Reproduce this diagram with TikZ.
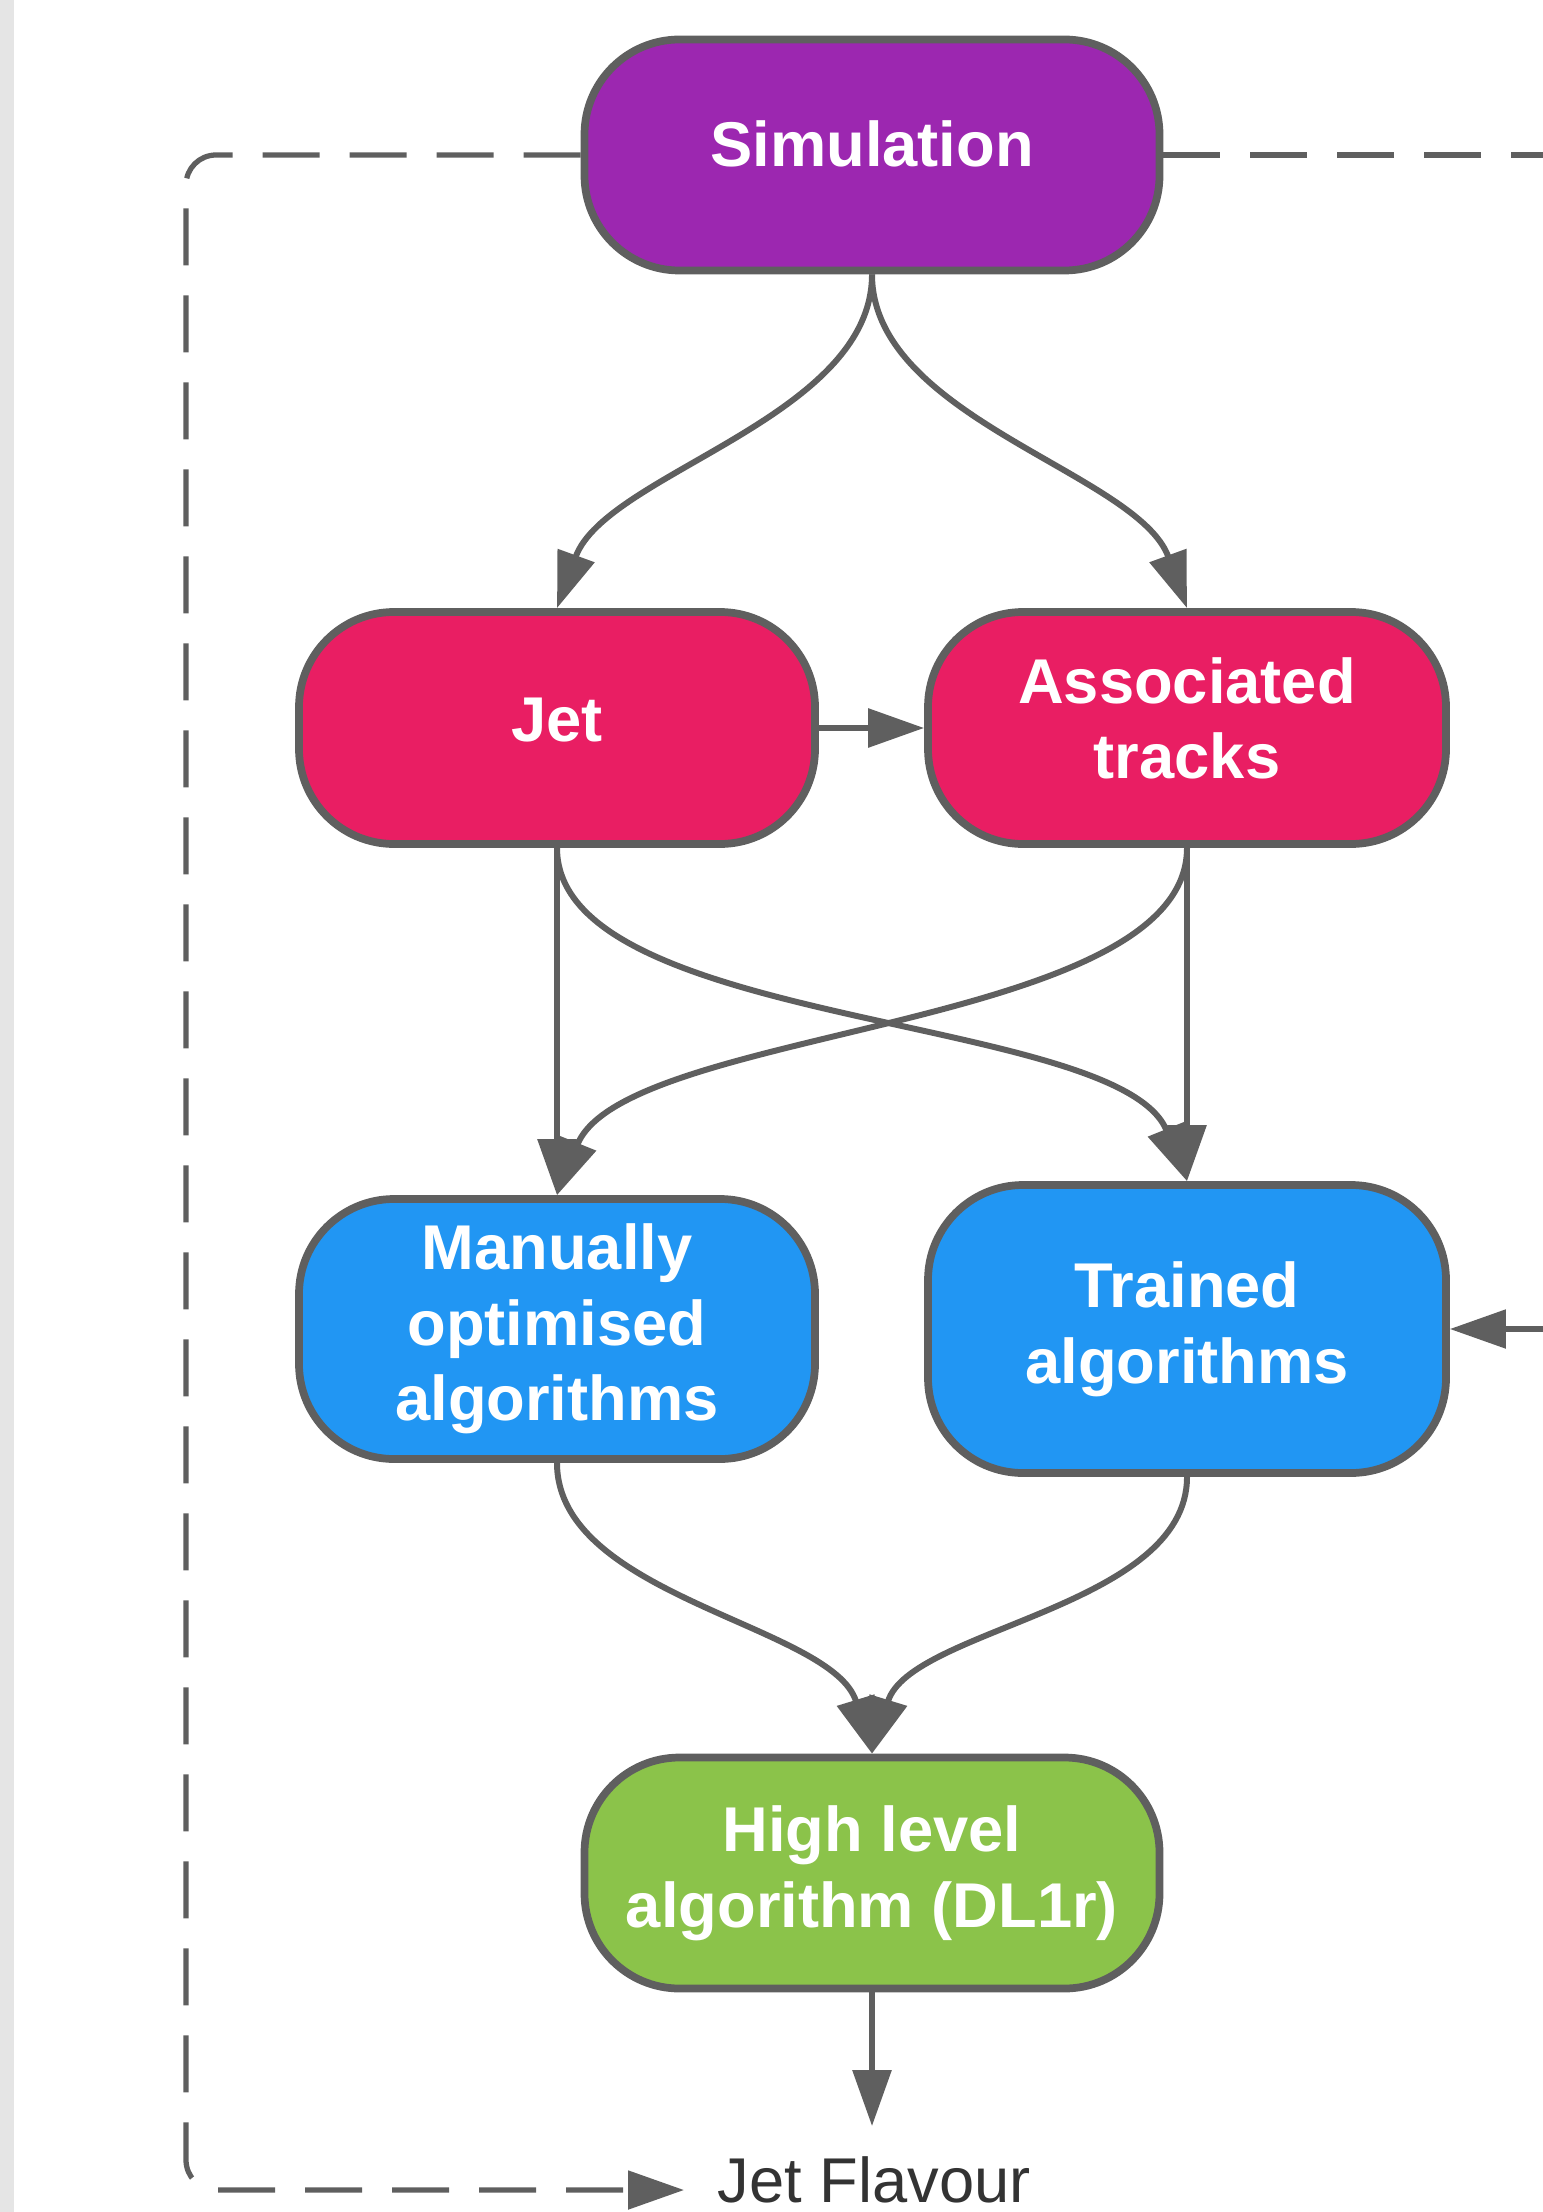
\documentclass[tikz,border=0pt]{standalone}
\usepackage{fontspec}
\setmainfont{Liberation Sans}
\usetikzlibrary{arrows.meta}
\definecolor{simcol}{HTML}{9C27B0}
\definecolor{objcol}{HTML}{E91E63}
\definecolor{algcol}{HTML}{2196F3}
\definecolor{hlcol}{HTML}{8BC34A}
\definecolor{edgecol}{HTML}{5F5F5F}
\begin{document}
\begin{tikzpicture}[>={Triangle[length=5.6mm,width=3.8mm]},
    box/.style={draw=edgecol, line width=2.2pt, rounded corners=9.5mm, text=white, align=center,
        inner sep=0pt, font=\fontsize{18}{21.5}\selectfont\bfseries},
    flow/.style={draw=edgecol, line width=1.7pt, ->},
    loop/.style={draw=edgecol, line width=1.5pt, dash pattern=on 5.7mm off 3mm}]
\fill[black!10] (0,0) rectangle (0.14,-22.12);
\useasboundingbox (0,0) rectangle (15.42,-22.12);
\node[box, fill=simcol, minimum width=5.75cm, minimum height=2.31cm, text depth=0.22cm] (sim) at (8.72,-1.55) {Simulation};
\node[box, fill=objcol, minimum width=5.16cm, minimum height=2.32cm, text depth=0.17cm] (jet) at (5.57,-7.28) {Jet};
\node[box, fill=objcol, minimum width=5.18cm, minimum height=2.32cm, text depth=0.2cm] (trk) at (11.87,-7.28) {Associated\\tracks};
\node[box, fill=algcol, minimum width=5.16cm, minimum height=2.60cm] (man) at (5.57,-13.29) {Manually\\optimised\\algorithms};
\node[box, fill=algcol, minimum width=5.18cm, minimum height=2.88cm] (trn) at (11.87,-13.29) {Trained\\algorithms};
\node[box, fill=hlcol, minimum width=5.75cm, minimum height=2.31cm] (hl) at (8.72,-18.73) {High level\\algorithm (DL1r)};
\node[text=black!80, font=\fontsize{18}{21.5}\selectfont, inner xsep=3.3mm, inner ysep=3mm, anchor=west] (flav) at (6.84,-21.8) {Jet Flavour};
\coordinate (loopL) at (1.86,-21.9);
\coordinate (loopR) at (15.5,-1.55);
\coordinate (loopRB) at (15.5,-13.29);

\draw[flow] (sim.south) to[out=-90,in=70,looseness=.8] (jet.north);
\draw[flow] (sim.south) to[out=-90,in=110,looseness=.8] (trk.north);
\draw[flow] (jet.east)--(trk.west);
\draw[flow] (jet.south)--(man.north);
\draw[flow] (trk.south)--(trn.north);
\draw[flow] (jet.south) to[out=-90,in=112,looseness=.65] (trn.north);
\draw[flow] (trk.south) to[out=-90,in=68,looseness=.65] (man.north);
\draw[flow] (man.south) to[out=-90,in=107,looseness=.8] (hl.north);
\draw[flow] (trn.south) to[out=-90,in=73,looseness=.8] (hl.north);
\draw[flow] (hl.south)--(hl.south |- flav.north);

\draw[loop,->,rounded corners=3mm] (sim.west) -| (loopL) -- ([yshift=-1mm]flav.west);
\draw[loop,->] (sim.east) -- (loopR) -- (loopRB) -- (trn.east);
\end{tikzpicture}
\end{document}
